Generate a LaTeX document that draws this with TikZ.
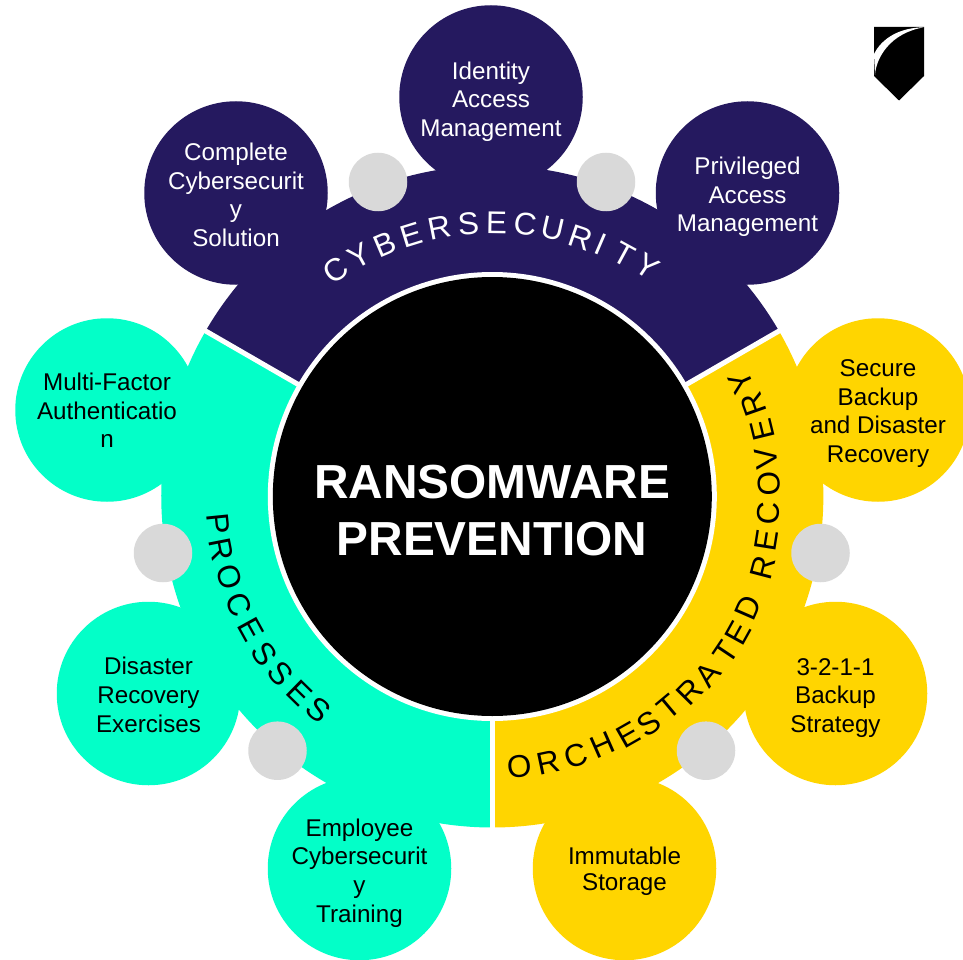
\documentclass[tikz,border=0pt]{standalone}
\usepackage{fontspec}
\setmainfont{Liberation Sans}
\definecolor{navy}{HTML}{25195F}
\definecolor{mint}{HTML}{03FFC8}
\definecolor{gold}{HTML}{FFD500}
\definecolor{dot}{HTML}{D9D9D9}
\tikzset{
  disc/.style={circle,draw=none,inner sep=0pt,minimum size=183.5pt},
  joint/.style={circle,fill=dot,draw=none,inner sep=0pt,minimum size=58.5pt},
  lbl/.style={align=center,inner sep=0pt,font=\fontsize{24.2}{28.7}\selectfont},
  lblb/.style={align=center,inner sep=0pt,font=\fontsize{24.2}{26}\selectfont},
  sep/.style={white,line width=5pt},
  glyph/.style={inner sep=0pt,font=\fontsize{31.5}{31.5}\selectfont}
}
\begin{document}
\begin{tikzpicture}[x=1pt,y=-1pt]
\useasboundingbox (0,0) rectangle (963,960);
\fill[white] (0,0) rectangle (963,960);
% sectors
\begin{scope}[shift={(492.3,496.5)},x=1pt,y=1pt]
  \fill[navy] (30:200) -- (30:331) arc[start angle=30,end angle=150,radius=331] -- (150:200) -- cycle;
  \fill[gold] (30:200) -- (30:331) arc[start angle=30,end angle=-90,radius=331] -- (-90:200) -- cycle;
  \fill[mint] (150:200) -- (150:331) arc[start angle=150,end angle=270,radius=331] -- (270:200) -- cycle;
\end{scope}
% outer discs
\node[disc,fill=navy] (d1) at (491,97) {};
\node[disc,fill=navy] (d2) at (236,193) {};
\node[disc,fill=navy] (d3) at (747.5,193) {};
\node[disc,fill=gold] (d4) at (878,410) {};
\node[disc,fill=gold] (d5) at (835.5,693.5) {};
\node[disc,fill=gold] (d6) at (624.5,868.5) {};
\node[disc,fill=mint] (d7) at (359.5,868.5) {};
\node[disc,fill=mint] (d8) at (148.5,693.5) {};
\node[disc,fill=mint] (d9) at (107,410) {};
% grey joints
\node[joint] (j1) at (378,182) {};
\node[joint] (j2) at (606,182) {};
\node[joint] (j3) at (820.5,553) {};
\node[joint] (j4) at (706,750.7) {};
\node[joint] (j5) at (277.5,750.7) {};
\node[joint] (j6) at (163,553) {};
% separators and centre
\begin{scope}[shift={(492.3,496.5)},x=1pt,y=1pt]
  \coordinate (s1a) at (30:215); \coordinate (s1b) at (30:336);
  \coordinate (s2a) at (150:215); \coordinate (s2b) at (150:336);
  \coordinate (s3a) at (270:215); \coordinate (s3b) at (270:336);
  \draw[sep] (s1a) -- (s1b);
  \draw[sep] (s2a) -- (s2b);
  \draw[sep] (s3a) -- (s3b);
  \fill[white] (0,0) circle[radius=224.5];
  \fill[black] (0,0) circle[radius=219.5];
  % CYBERSECURITY, letters set along the arc
  \foreach \ch/\a/\r [count=\i] in {C/124.6/275,Y/118.8/275,B/113/274,E/107.2/273.5,R/101.1/273.5,S/95.0/274,E/89.1/274,C/83.1/274,U/77.2/274.5,R/71.2/273.5,I/66.7/274.5,T/61.4/275.5,Y/56.0/277}
    \node[glyph,text=white,rotate=\a-90] (cy\i) at (\a:\r) {\ch};
  % ORCHESTRATED RECOVERY
  \foreach \ch/\a/\r [count=\i] in {O/-84.3/271.5,R/-78.1/272,C/-72.1/272.5,H/-66.2/272,E/-60.3/274.5,S/-55.3/276,T/-50.1/275,R/-44.6/277.5,A/-39.5/279.5,T/-33.8/281,E/-29/281,D/-23.6/279,R/-14.7/279.5,E/-9/278,C/-3.6/277,O/2.6/277,V/7.9/277,E/13.8/278,R/19.4/277,Y/24.6/274}
    \node[glyph,rotate=\a+90] (or\i) at (\a:\r) {\ch};
  % PROCESSES
  \foreach \ch/\a/\r [count=\i] in {P/185.75/275,R/191.1/276.5,O/197.1/275.5,C/203.2/275.5,E/208.9/276,S/214.7/277,S/219.9/276,E/225.6/275.7,S/230.8/275.4}
    \node[glyph,rotate=\a+90] (pr\i) at (\a:\r) {\ch};
\end{scope}
% centre title
\node[align=center,inner sep=0pt,text=white,font=\bfseries\fontsize{47.8}{57}\selectfont] (title) at (492,510.5) {RANSOMWARE\\PREVENTION};
% labels
\node[lbl,text=white] (t1) at (491,101.5) {Identity\\Access\\Management};
\node[lbl,text=white] (t2) at (236,195) {Complete\\Cybersecurit\\y\\Solution};
\node[lbl,text=white] (t3) at (747.5,197) {Privileged\\Access\\Management};
\node[lbl] (t4) at (878,413.5) {Secure\\Backup\\and Disaster\\Recovery};
\node[lbl] (t5) at (835.5,698) {3-2-1-1\\Backup\\Strategy};
\node[lblb] (t6) at (624.5,871) {Immutable\\Storage};
\node[lbl] (t7) at (359.5,873) {Employee\\Cybersecurit\\y\\Training};
\node[lbl] (t8) at (148.5,695) {Disaster\\Recovery\\Exercises};
\node[lbl] (t9) at (107,410.5) {Multi-Factor\\Authenticatio\\n};
% shield
\fill[black] (874,27) -- (924,27) -- (924,76) -- (899,100.5) -- (874,76) -- cycle;
\fill[white] (875,75) .. controls (876,58) and (890,33) .. (924,27.3) .. controls (900,27.5) and (882,38) .. (874,54) -- cycle;
\end{tikzpicture}
\end{document}
